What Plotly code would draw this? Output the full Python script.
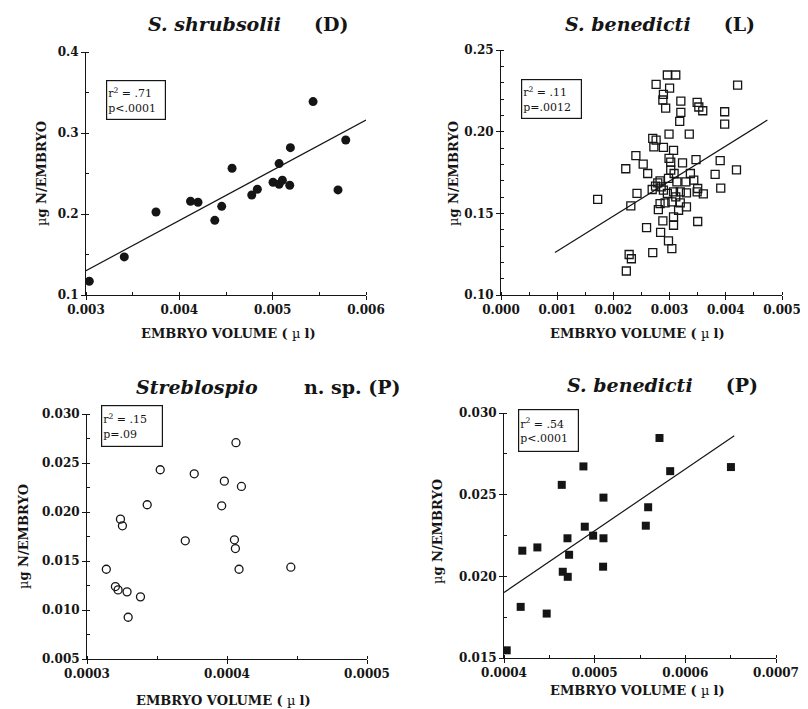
import plotly.graph_objects as go

W, H = 808, 709
OFF = 8  # page body margin of the html page

# ---------------- data ----------------
# Panel D : S. shrubsolii
d_x = [0.003035, 0.00341, 0.00375, 0.00412, 0.00420, 0.00438, 0.004454, 0.004565,
       0.004776, 0.004836, 0.005004, 0.005069, 0.005069, 0.005104, 0.005183,
       0.00519, 0.005433, 0.00570, 0.005783]
d_y = [0.117, 0.147, 0.2025, 0.2157, 0.2145, 0.1922, 0.2095, 0.2565,
       0.2235, 0.2305, 0.2392, 0.2622, 0.2367, 0.2416, 0.2355,
       0.2819, 0.3388, 0.2297, 0.2914]
d_fit_x = [0.0030, 0.0060]
d_fit_y = [0.130, 0.316]

# Panel L : S. benedicti (L)
l_x = [0.00296, 0.00311, 0.00276, 0.00300, 0.00289, 0.00288, 0.00293, 0.00320,
       0.00349, 0.00352, 0.00359, 0.00320, 0.00318, 0.00398, 0.00398, 0.00421,
       0.00299, 0.00335, 0.00270, 0.00276, 0.00272, 0.00289, 0.00307, 0.00240,
       0.00347, 0.00390, 0.00299, 0.00302, 0.00253, 0.00222, 0.00261, 0.00323,
       0.00419, 0.00381, 0.00391, 0.00360, 0.00343, 0.00337, 0.00313, 0.00298,
       0.00283, 0.00275, 0.00269, 0.00289, 0.00307, 0.00319, 0.00330, 0.00349,
       0.00242, 0.00172, 0.00231, 0.00283, 0.00292, 0.00304, 0.00319, 0.00330,
       0.00280, 0.00316, 0.00307, 0.00288, 0.00307, 0.00350, 0.00259, 0.00284,
       0.00298, 0.00304, 0.00270, 0.00228, 0.00232, 0.00223, 0.00279, 0.00302,
       0.00308, 0.00329, 0.00311, 0.00296, 0.00285, 0.00350]
l_y = [0.2347, 0.2347, 0.2290, 0.2267, 0.2228, 0.2194, 0.2144, 0.2187,
       0.2179, 0.2151, 0.2128, 0.2118, 0.2063, 0.2122, 0.2046, 0.2285,
       0.1985, 0.1985, 0.1959, 0.1948, 0.1907, 0.1904, 0.1885, 0.1853,
       0.1829, 0.1823, 0.1836, 0.1813, 0.1801, 0.1773, 0.1744, 0.1809,
       0.1766, 0.1738, 0.1654, 0.1619, 0.1703, 0.1744, 0.1693, 0.1714,
       0.1699, 0.1666, 0.1646, 0.1642, 0.1631, 0.1631, 0.1625, 0.1631,
       0.1622, 0.1585, 0.1546, 0.1560, 0.1564, 0.1570, 0.1564, 0.1539,
       0.1523, 0.1519, 0.1478, 0.1454, 0.1427, 0.1450, 0.1412, 0.1384,
       0.1331, 0.1284, 0.1260, 0.1248, 0.1222, 0.1147, 0.1687, 0.1764,
       0.1744, 0.1693, 0.1601, 0.1622, 0.1662, 0.1652]
l_fit_x = [0.00096, 0.00474]
l_fit_y = [0.126, 0.2071]

# Panel P : Streblospio n. sp.
s_x = [0.0003138, 0.0003203, 0.0003222, 0.0003239, 0.0003253, 0.0003286, 0.0003294,
       0.0003382, 0.0003430, 0.0003523, 0.0003702, 0.0003766, 0.0003962, 0.0003981,
       0.0004053, 0.0004060, 0.0004064, 0.0004086, 0.0004103, 0.0004456]
s_y = [0.01416, 0.01239, 0.01205, 0.01927, 0.01859, 0.01185, 0.00926,
       0.01134, 0.02074, 0.02431, 0.01706, 0.02390, 0.02063, 0.02315,
       0.01716, 0.01627, 0.02707, 0.01416, 0.02261, 0.01437]

# Panel P : S. benedicti (P)
p_x = [0.000403, 0.0004184, 0.0004202, 0.0004368, 0.0004471, 0.0004637, 0.0004648,
       0.0004700, 0.0004703, 0.0004718, 0.0004876, 0.0004891, 0.0004983, 0.0005097,
       0.0005097, 0.0005093, 0.0005564, 0.0005590, 0.0005715, 0.0005833, 0.0006503]
p_y = [0.01547, 0.01813, 0.02157, 0.02177, 0.01772, 0.02560, 0.02028,
       0.02233, 0.01997, 0.02132, 0.02673, 0.02304, 0.02249, 0.02482,
       0.02233, 0.02059, 0.02310, 0.02423, 0.02847, 0.02644, 0.02669]
p_fit_x = [0.0004, 0.000654]
p_fit_y = [0.01901, 0.02861]

stats_d = ["2", ".71", "p&lt;.0001"]
stats_l = ["2", ".11", "p=.0012"]
stats_s = ["2", ".15", "p=.09"]
stats_p = ["2", ".54", "p&lt;.0001"]

# ---------------- layout helpers ----------------
FONT = "DejaVu Serif"
INK = "#151515"

def px_x(p):
    return (p - OFF) / W

def px_y(p):
    return 1 - (p - OFF) / H

def axis(domain, rng, dtick, mdtick, fmt, anchor):
    return dict(domain=domain, range=rng, dtick=dtick, tick0=rng[0], tickformat=fmt,
                showline=True, linecolor=INK, linewidth=1, ticks="outside", ticklen=4,
                tickwidth=1, tickcolor=INK, showgrid=False, zeroline=False,
                anchor=anchor, fixedrange=True, automargin=False,
                tickfont=dict(family=FONT, size=12, color=INK, weight="bold"),
                minor=dict(ticks="inside", ticklen=3, dtick=mdtick, tickcolor=INK,
                           tickwidth=1, showgrid=False))

fig = go.Figure()

mk_line = dict(color=INK, width=1.2)
fig.add_trace(go.Scatter(x=d_x, y=d_y, mode="markers", xaxis="x", yaxis="y",
                         marker=dict(symbol="circle", size=9, color=INK)))
fig.add_trace(go.Scatter(x=d_fit_x, y=d_fit_y, mode="lines", xaxis="x", yaxis="y", line=mk_line))

fig.add_trace(go.Scatter(x=l_x, y=l_y, mode="markers", xaxis="x2", yaxis="y2",
                         marker=dict(symbol="square-open", size=8, color=INK,
                                     line=dict(width=1.3, color=INK))))
fig.add_trace(go.Scatter(x=l_fit_x, y=l_fit_y, mode="lines", xaxis="x2", yaxis="y2", line=mk_line))

fig.add_trace(go.Scatter(x=s_x, y=s_y, mode="markers", xaxis="x3", yaxis="y3",
                         marker=dict(symbol="circle-open", size=8, color=INK,
                                     line=dict(width=1.3, color=INK))))

fig.add_trace(go.Scatter(x=p_x, y=p_y, mode="markers", xaxis="x4", yaxis="y4",
                         marker=dict(symbol="square", size=8, color=INK)))
fig.add_trace(go.Scatter(x=p_fit_x, y=p_fit_y, mode="lines", xaxis="x4", yaxis="y4", line=mk_line))

layout = dict(
    width=W, height=H, showlegend=False,
    margin=dict(l=0, r=0, t=0, b=0, autoexpand=False),
    paper_bgcolor="white", plot_bgcolor="white",
    xaxis=axis([px_x(86), px_x(366)], [0.003, 0.006], 0.001, 0.0005, ".3f", "y"),
    yaxis=axis([px_y(295), px_y(52)], [0.1, 0.4], 0.1, 0.05, ".1f", "x"),
    xaxis2=axis([px_x(501), px_x(782)], [0.0, 0.005], 0.001, 0.0005, ".3f", "y2"),
    yaxis2=axis([px_y(295), px_y(50)], [0.10, 0.25], 0.05, 0.01, ".2f", "x2"),
    xaxis3=axis([px_x(87), px_x(367)], [0.0003, 0.0005], 0.0001, 0.00005, ".4f", "y3"),
    yaxis3=axis([px_y(659), px_y(414)], [0.005, 0.030], 0.005, 0.0025, ".3f", "x3"),
    xaxis4=axis([px_x(504), px_x(776)], [0.0004, 0.0007], 0.0001, 0.00005, ".4f", "y4"),
    yaxis4=axis([px_y(658), px_y(413)], [0.015, 0.030], 0.005, 0.0025, ".3f", "x4"),
)
fig.update_layout(**layout)

ann = []
NB = "\u00a0"

def title(text, lx, cy):
    ann.append(dict(text=text, x=px_x(lx), y=px_y(cy), xref="paper", yref="paper",
                    showarrow=False, xanchor="left", yanchor="middle",
                    font=dict(family=FONT, size=19, color=INK)))

title("<b><i>S. shrubsolii</i>" + NB * 5 + "(D)</b>", 146, 24)
title("<b><i>S. benedicti</i>" + NB * 5 + "(L)</b>", 563, 24)
title("<b><i>Streblospio</i>" + NB * 7 + "n. sp. (P)</b>", 134, 387)
title("<b><i>S. benedicti</i>" + NB * 5 + "(P)</b>", 565, 385)

def xtitle(cx, cy):
    ann.append(dict(text="<b>EMBRYO VOLUME (</b> \u00b5 <b>l)</b>", x=px_x(cx), y=px_y(cy),
                    xref="paper", yref="paper", showarrow=False, xanchor="center",
                    yanchor="middle", font=dict(family=FONT, size=13, color=INK)))

def ytitle(cx, cy):
    ann.append(dict(text="\u00b5<b>g N/EMBRYO</b>", x=px_x(cx), y=px_y(cy),
                    xref="paper", yref="paper", showarrow=False, xanchor="center",
                    yanchor="middle", textangle=-90,
                    font=dict(family=FONT, size=13, color=INK)))

xtitle(228, 334); xtitle(637, 334); xtitle(223, 700); xtitle(637, 690)
ytitle(42, 174); ytitle(454, 174); ytitle(23, 537); ytitle(437, 532)

def statbox(st, lx, ty, w, h):
    txt = "r<sup>%s</sup> = %s<br>%s" % (st[0], st[1], st[2])
    ann.append(dict(text=txt, x=px_x(lx), y=px_y(ty), xref="paper", yref="paper",
                    showarrow=False, xanchor="left", yanchor="top", align="left",
                    width=w, height=h, valign="middle",
                    bordercolor=INK, borderwidth=1.2, borderpad=1, bgcolor="white",
                    font=dict(family=FONT, size=11, color=INK)))

statbox(stats_d, 106, 80, 56, 36)
statbox(stats_l, 521, 79, 57, 36)
statbox(stats_s, 101, 405, 58, 38)
statbox(stats_p, 518, 409, 57, 39)

fig.update_layout(annotations=ann)
fig.write_html("out.html")
